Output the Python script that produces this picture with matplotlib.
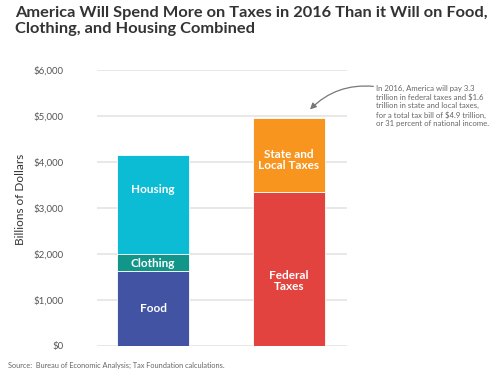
import matplotlib.pyplot as plt
from matplotlib.ticker import FuncFormatter

# values in billions of dollars, 2016
spending_labels = ['Food', 'Clothing', 'Housing']
spending_values = [1620, 380, 2150]
spending_colors = ['#4353A4', '#12968A', '#0BBCD4']
spending_label_y = [800, 1800, 3400]

tax_labels = ['Federal\nTaxes', 'State and\nLocal Taxes']
tax_values = [3350, 1600]
tax_colors = ['#E2433F', '#F7951F']
tax_label_y = [1400, 4050]

yticks = [0, 1000, 2000, 3000, 4000, 5000, 6000]

title = ('America Will Spend More on Taxes in 2016 Than it Will on Food,\n'
         'Clothing, and Housing Combined')
note = ('In 2016, America will pay 3.3\n'
        'trillion in federal taxes and $1.6\n'
        'trillion in state and local taxes,\n'
        'for a total tax bill of $4.9 trillion,\n'
        'or 31 percent of national income.')
source = 'Source:  Bureau of Economic Analysis; Tax Foundation calculations.'

plt.rcParams['font.family'] = ['Lato', 'DejaVu Sans']

fig = plt.figure(figsize=(5, 3.76), dpi=100)
ax = fig.add_axes([0.194, 0.0806, 0.5, 0.733])

width = 0.527


def stack(x, values, colors, labels, label_y):
    bottom = 0
    for v, c, lab, ly in zip(values, colors, labels, label_y):
        ax.bar(x, v, width=width, bottom=bottom, color=c, edgecolor='white',
               linewidth=0.6, zorder=3)
        ax.text(x, ly, lab, ha='center', va='center', color='white',
                fontsize=8.5, fontweight='bold', linespacing=1.0, zorder=4)
        bottom += v
    return bottom


stack(0, spending_values, spending_colors, spending_labels, spending_label_y)
tax_total = stack(1, tax_values, tax_colors, tax_labels, tax_label_y)

ax.set_xlim(-0.412, 1.426)
ax.set_ylim(0, 6000)
ax.set_yticks(yticks)
ax.yaxis.set_major_formatter(FuncFormatter(lambda v, p: '${:,.0f}'.format(v)))
ax.set_xticks([])
ax.tick_params(axis='y', length=0, pad=24, labelsize=7, labelcolor='#555555')
for s in ax.spines.values():
    s.set_visible(False)
ax.grid(axis='y', color='#e4e4e4', linewidth=1.2, zorder=0)
ax.set_ylabel('Billions of Dollars', fontsize=8.5, color='#333333')
ax.yaxis.set_label_coords(-0.285, 0.53)

ax.annotate('', xy=(1.14, tax_total + 150), xytext=(1.64, 5640),
            annotation_clip=False,
            arrowprops=dict(arrowstyle='-|>', color='#777777', lw=0.9,
                            mutation_scale=9,
                            connectionstyle='arc3,rad=0.25'))
fig.text(0.752, 0.775, note, ha='left', va='top', fontsize=5.6,
         color='#666666', linespacing=1.25)

fig.text(0.03, 0.985, title, ha='left', va='top', fontsize=11.8,
         fontweight='bold', color='#333333', linespacing=1.2)
fig.text(0.016, 0.018, source, ha='left', va='bottom', fontsize=5.3,
         color='#666666')

fig.savefig('out.png', dpi=100)
